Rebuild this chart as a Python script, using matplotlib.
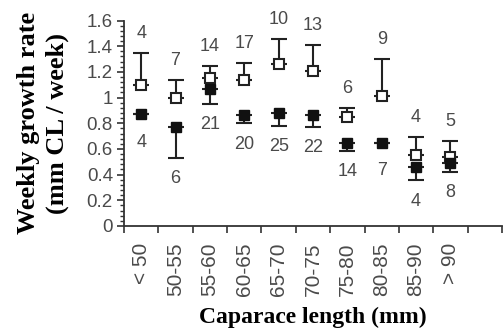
import matplotlib
matplotlib.use("Agg")
import matplotlib.pyplot as plt
from matplotlib.ticker import MultipleLocator, FixedLocator
import numpy as np

categories = ["< 50", "50-55", "55-60", "60-65", "65-70", "70-75", "75-80", "80-85", "85-90", "> 90"]
open_mean = [1.10, 1.00, 1.15, 1.14, 1.26, 1.21, 0.85, 1.01, 0.55, 0.54]
open_err = [0.25, 0.14, 0.095, 0.13, 0.195, 0.20, 0.07, 0.29, 0.14, 0.12]
open_n = [4, 7, 14, 17, 10, 13, 6, 9, 4, 5]
filled_mean = [0.87, 0.77, 1.065, 0.865, 0.88, 0.865, 0.645, 0.645, 0.46, 0.49]
filled_err = [0.0, 0.24, 0.115, 0.065, 0.10, 0.095, 0.06, 0.0, 0.105, 0.07]
filled_n = [4, 6, 21, 20, 25, 22, 14, 7, 4, 8]
y_ticks = [0, 0.2, 0.4, 0.6, 0.8, 1, 1.2, 1.4, 1.6]
y_tick_labels = ["0", "0.2", "0.4", "0.6", "0.8", "1", "1.2", "1.4", "1.6"]

fig = plt.figure(figsize=(5.04, 3.34), dpi=100)
ax = fig.add_axes([124/504, (334-226)/334, (502-124)/504, (226-20.5)/334])

x = np.arange(len(categories))
gray = "#4a4a4a"

ax.errorbar(x, open_mean, yerr=[np.zeros(len(x)), open_err], fmt="s", ms=7,
            mfc="white", mec="#222222", mew=1.5, ecolor="#222222", elinewidth=1.5,
            capsize=6, capthick=1.5, zorder=3)
ax.errorbar(x, filled_mean, yerr=[filled_err, np.zeros(len(x))], fmt="s", ms=7,
            mfc="#111111", mec="#111111", ecolor="#222222", elinewidth=1.5,
            capsize=6, capthick=1.5, zorder=4)

tf = dict(family="Liberation Sans", size=13, color=gray, ha="center", va="center")
for xi, m, e, n in zip(x, open_mean, open_err, open_n):
    ax.annotate(str(n), (xi, m + e), xytext=(0, 14), textcoords="offset points", **tf)
for xi, m, e, n in zip(x, filled_mean, filled_err, filled_n):
    off = -15 if e > 0 else -20
    ax.annotate(str(n), (xi, m - e), xytext=(0, off), textcoords="offset points", **tf)

ax.set_xlim(-0.5, 10.5)
ax.set_ylim(0, 1.6)
ax.spines["top"].set_visible(False)
ax.spines["right"].set_visible(False)
for s in ("left", "bottom"):
    ax.spines[s].set_linewidth(1.3)
    ax.spines[s].set_color("#333333")

ax.yaxis.set_major_locator(FixedLocator(y_ticks))
ax.set_yticklabels(y_tick_labels)
ax.yaxis.set_minor_locator(MultipleLocator(0.04))
ax.tick_params(axis="y", which="major", direction="out", length=5, width=1.2, color="#333333",
               labelsize=13.5, labelcolor=gray, pad=3)
ax.tick_params(axis="y", which="minor", direction="out", length=3, width=1.0, color="#333333")

ax.set_xticks(x)
ax.set_xticklabels(categories, rotation=90, family="Liberation Sans", fontsize=15, color=gray)
ax.tick_params(axis="x", which="major", length=0, pad=12)
ax.xaxis.set_minor_locator(FixedLocator(np.arange(-0.5, 11, 1.0)))
ax.tick_params(axis="x", which="minor", direction="out", length=5, width=1.2, color="#333333")
for lab in ax.get_yticklabels():
    lab.set_family("Liberation Sans")

ax.set_xlabel("Caparace length (mm)", family="Liberation Serif", fontweight="bold",
              fontsize=17, labelpad=8)
ax.set_ylabel("Weekly growth rate\n(mm CL / week)", family="Liberation Serif",
              fontweight="bold", fontsize=19, linespacing=1.3, labelpad=13)

fig.savefig("out.png", dpi=100)
